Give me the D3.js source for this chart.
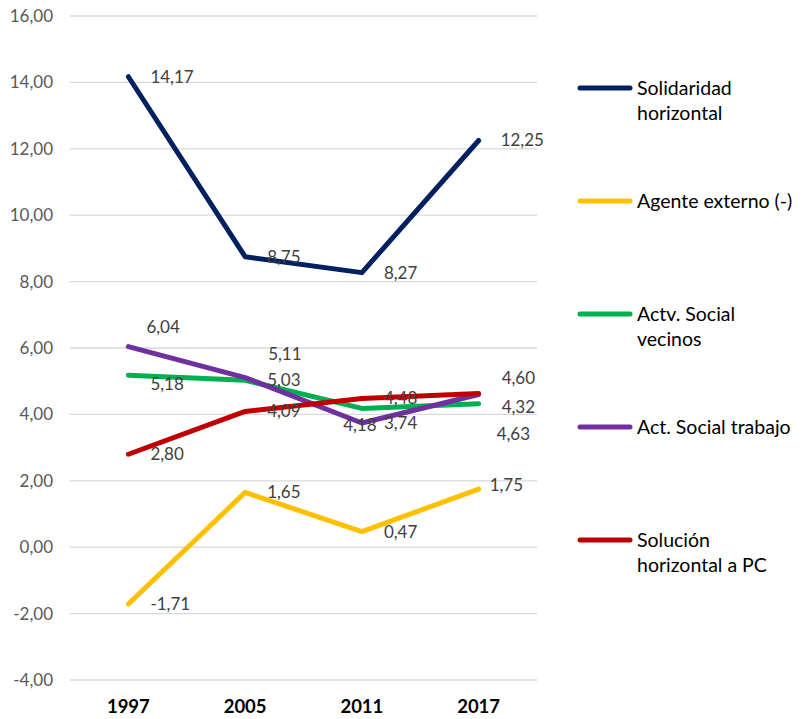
<!DOCTYPE html>
<html><head><meta charset="utf-8">
<script src="https://cdn.jsdelivr.net/npm/d3@7"></script>
<style>body{margin:0;background:#fff;} svg{display:block;font-family:Lato, "Open Sans", sans-serif;}</style>
</head><body>
<svg id="c" width="810" height="719"></svg>
<script>
const years = ["1997","2005","2011","2017"];
const seriesNames = ["Solidaridad horizontal","Agente externo (-)","Actv. Social vecinos","Act. Social trabajo","Solución horizontal a PC"];
const legendLines = [["Solidaridad","horizontal"],["Agente externo (-)"],["Actv. Social","vecinos"],["Act. Social trabajo"],["Solución","horizontal a PC"]];
const colors = ["#002060","#FFC000","#00B050","#7030A0","#C00000"];
const solidaridad = [14.17, 8.75, 8.27, 12.25];
const agente = [-1.71, 1.65, 0.47, 1.75];
const vecinos = [5.18, 5.03, 4.18, 4.32];
const trabajo = [6.04, 5.11, 3.74, 4.60];
const solucion = [2.80, 4.09, 4.48, 4.63];
const yTicks = [-4,-2,0,2,4,6,8,10,12,14,16];
const values = [solidaridad, agente, vecinos, trabajo, solucion];

// label nudges (series index, point index) -> [dx, dy, anchor]
const nudge = {
  "3-0":[18,-20], "2-0":[22,9], "3-1":[23,-23], "2-2":[-2,17,"middle"],
  "3-3":[23,-16], "4-3":[18,41], "1-3":[11,-4], "2-3":[23,3]
};

const svg = d3.select("#c");
const x = d3.scaleBand().domain(years).range([70,537]);
const y = d3.scaleLinear().domain([-4,16]).range([680,16]);
const fmt = v => d3.format(".2f")(v).replace("−","-").replace(".", ",");

// gridlines
svg.append("g").selectAll("line").data(yTicks).join("line")
  .attr("x1",70).attr("x2",537)
  .attr("y1",d=>y(d)).attr("y2",d=>y(d))
  .attr("stroke","#d9d9d9").attr("stroke-width",1.3);

// y tick labels
svg.append("g").selectAll("text").data(yTicks).join("text")
  .attr("x",53).attr("y",d=>y(d)).attr("dy","0.35em")
  .attr("text-anchor","end").attr("font-size",17).attr("fill","#595959")
  .text(d=>fmt(d));

// x labels
svg.append("g").selectAll("text").data(years).join("text")
  .attr("x",d=>x(d)+x.bandwidth()/2).attr("y",707).attr("dy","0.35em")
  .attr("text-anchor","middle").attr("font-size",18.5).attr("font-weight","bold").attr("fill","#000")
  .text(d=>d);

const line = d3.line().x((d,i)=>x(years[i])+x.bandwidth()/2).y(d=>y(d));

values.forEach((vals,si)=>{
  svg.append("path").datum(vals).attr("d",line)
    .attr("fill","none").attr("stroke",colors[si]).attr("stroke-width",5)
    .attr("stroke-linecap","round").attr("stroke-linejoin","round");
});

values.forEach((vals,si)=>{
  vals.forEach((v,i)=>{
    const n = nudge[si+"-"+i] || [22,0];
    svg.append("text")
      .attr("x", x(years[i])+x.bandwidth()/2 + n[0])
      .attr("y", y(v) + n[1]).attr("dy","0.35em")
      .attr("text-anchor", n[2]||"start")
      .attr("font-size",17).attr("fill","#404040")
      .text(fmt(v));
  });
});

// legend
const lg = svg.append("g");
seriesNames.forEach((s,i)=>{
  const ly = 88 + i*113;
  lg.append("line").attr("x1",580).attr("x2",630).attr("y1",ly).attr("y2",ly)
    .attr("stroke",colors[i]).attr("stroke-width",5).attr("stroke-linecap","round");
  legendLines[i].forEach((t,j)=>{
    lg.append("text").attr("x",637).attr("y",ly+j*25).attr("dy","0.35em")
      .attr("font-size",19.5).attr("fill","#000").text(t);
  });
});
</script>
</body></html>
